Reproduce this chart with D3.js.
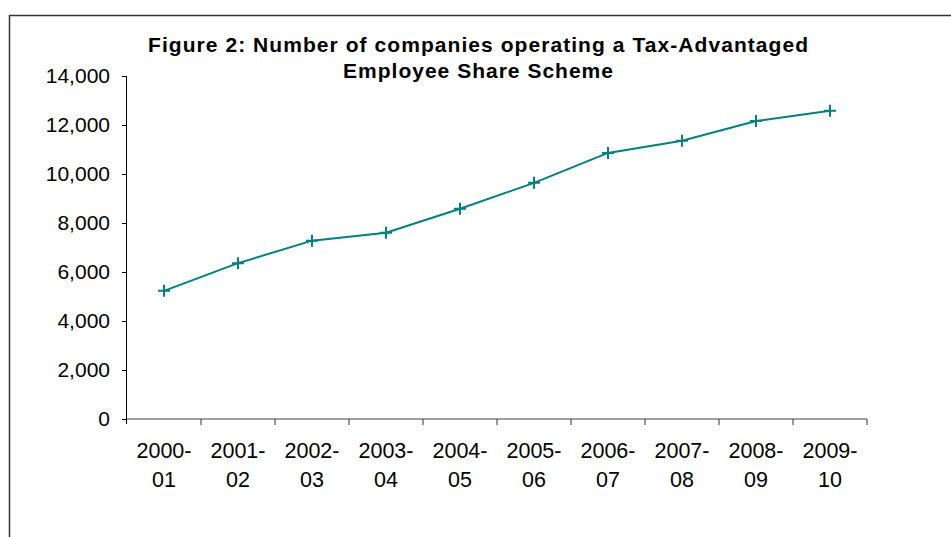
<!DOCTYPE html>
<html>
<head>
<meta charset="utf-8">
<script src="https://cdn.jsdelivr.net/npm/d3@7"></script>
<style>
  html, body { margin: 0; padding: 0; background: #fff; }
  svg { display: block; }
  text { font-family: "Liberation Sans", Arial, sans-serif; fill: #000; }
</style>
</head>
<body>
<svg id="chart" width="951" height="537"></svg>
<script>
// Financial years and number of companies operating a scheme
const years = ["2000-01", "2001-02", "2002-03", "2003-04", "2004-05",
               "2005-06", "2006-07", "2007-08", "2008-09", "2009-10"];
const companies = [5230, 6360, 7280, 7600, 8580, 9640, 10860, 11360, 12160, 12580];
const yTicks = [0, 2000, 4000, 6000, 8000, 10000, 12000, 14000];
const titleLines = ["Figure 2: Number of companies operating a Tax-Advantaged",
                    "Employee Share Scheme"];
const titleWidths = [660, 270];

const svg = d3.select("#chart");
const margin = { left: 127, right: 84, top: 76, bottom: 118 };
const W = 951, H = 537;

// outer frame
svg.append("rect")
  .attr("x", 9.5).attr("y", 15.5)
  .attr("width", 1000).attr("height", 600)
  .attr("fill", "none").attr("stroke", "#333").attr("stroke-width", 1.5);

const x = d3.scaleBand().domain(years)
  .range([margin.left, W - margin.right]).padding(0);
const y = d3.scaleLinear().domain([0, 14000])
  .range([H - margin.bottom, margin.top]);

// title, spaced out to the width of the original heading
const title = svg.append("g");
titleLines.forEach((t, i) => {
  title.append("text")
    .attr("x", 478).attr("y", 52 + i * 26)
    .attr("text-anchor", "middle")
    .attr("font-size", 21).attr("font-weight", "bold")
    .attr("textLength", titleWidths[i]).attr("lengthAdjust", "spacing")
    .text(t);
});

// y axis
const yAxis = svg.append("g")
  .attr("transform", `translate(${margin.left},0)`)
  .call(d3.axisLeft(y).tickValues(yTicks).tickSize(5).tickPadding(12)
    .tickFormat(d3.format(",")));
yAxis.select(".domain").attr("stroke", "#000").attr("d", `M-0.5,${y(14000)}V${y(0) + 5}`);
yAxis.selectAll(".tick line").attr("stroke", "#000");
yAxis.selectAll(".tick text").attr("font-size", 21)
  .attr("font-family", "Liberation Sans, Arial, sans-serif").attr("fill", "#000");

// x axis with category boundary ticks
const xg = svg.append("g").attr("transform", `translate(0,${y(0)})`);
xg.append("line")
  .attr("x1", margin.left).attr("x2", W - margin.right)
  .attr("stroke", "#808080").attr("stroke-width", 1.5);
const bounds = years.map(d => x(d)).concat([x(years[years.length - 1]) + x.bandwidth()]);
xg.selectAll("line.bt").data(bounds.slice(1)).join("line")
  .attr("class", "bt")
  .attr("x1", d => d).attr("x2", d => d)
  .attr("y1", 0).attr("y2", 6)
  .attr("stroke", "#333").attr("stroke-width", 1);
const lbl = xg.selectAll("text.xl").data(years).join("text")
  .attr("class", "xl")
  .attr("text-anchor", "middle")
  .attr("font-size", 21.5)
  .attr("transform", d => `translate(${x(d) + x.bandwidth() / 2},0)`);
lbl.append("tspan").attr("x", 0).attr("y", 39).text(d => d.split("-")[0] + "-");
lbl.append("tspan").attr("x", 0).attr("y", 68).text(d => d.split("-")[1]);

// series line
const cx = d => x(d) + x.bandwidth() / 2;
const line = d3.line().x((d, i) => cx(years[i])).y(d => y(d));
svg.append("path").datum(companies)
  .attr("d", line)
  .attr("fill", "none").attr("stroke", "#008080").attr("stroke-width", 2);

// plus-sign markers
const m = 6;
svg.append("g").selectAll("path").data(companies).join("path")
  .attr("d", (d, i) => {
    const px = cx(years[i]), py = y(d);
    return `M${px - m},${py}H${px + m}M${px},${py - m}V${py + m}`;
  })
  .attr("stroke", "#008080").attr("stroke-width", 2).attr("fill", "none");
</script>
</body>
</html>
